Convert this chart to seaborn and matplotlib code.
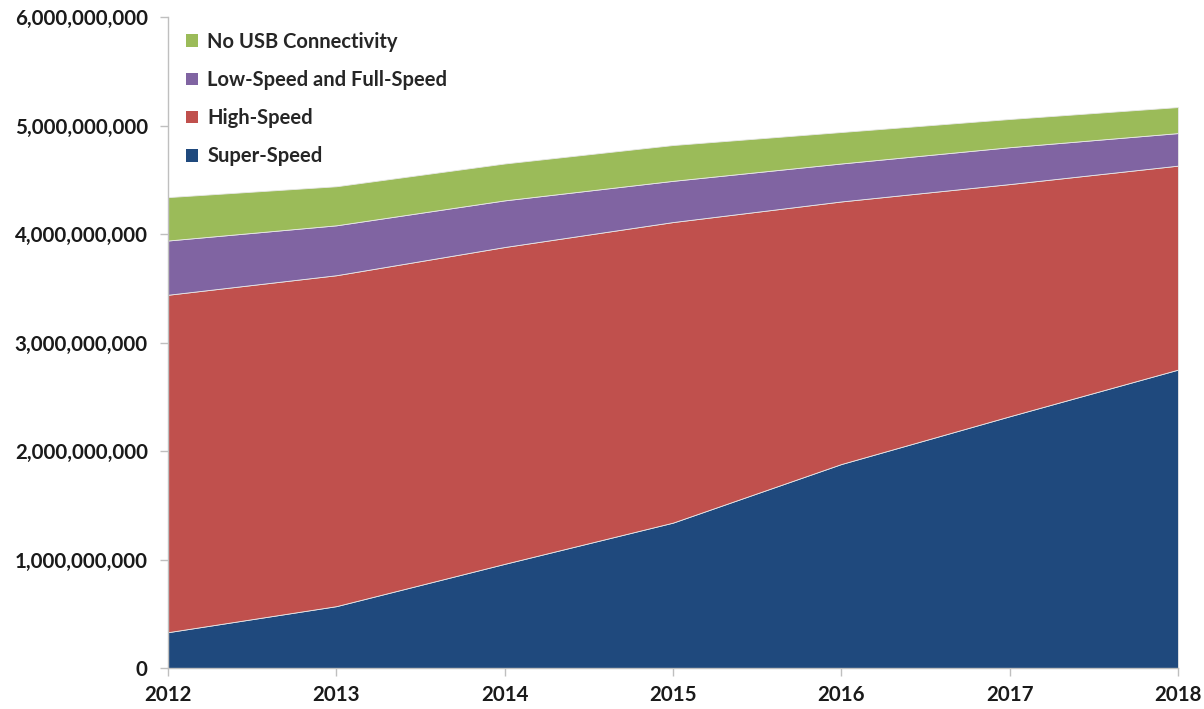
import matplotlib
matplotlib.use("Agg")
import matplotlib.pyplot as plt
import seaborn as sns
import numpy as np
from matplotlib.patches import Patch
from matplotlib.ticker import FuncFormatter

years = [2012, 2013, 2014, 2015, 2016, 2017, 2018]
super_speed = [0.33e9, 0.57e9, 0.96e9, 1.34e9, 1.88e9, 2.32e9, 2.75e9]
high_speed = [3.11e9, 3.05e9, 2.92e9, 2.77e9, 2.42e9, 2.14e9, 1.88e9]
low_full_speed = [0.50e9, 0.46e9, 0.43e9, 0.38e9, 0.35e9, 0.34e9, 0.30e9]
no_usb = [0.40e9, 0.36e9, 0.34e9, 0.33e9, 0.29e9, 0.26e9, 0.24e9]
series_names = ["Super-Speed", "High-Speed", "Low-Speed and Full-Speed", "No USB Connectivity"]
colors = ["#1F497D", "#C0504D", "#8064A2", "#9BBB59"]
y_ticks = [0, 1e9, 2e9, 3e9, 4e9, 5e9, 6e9]

sns.set_style("white")
plt.rcParams['font.family'] = ['Lato', 'DejaVu Sans']

fig = plt.figure(figsize=(12.04, 7.09), dpi=100)
ax = fig.add_axes([168/1204, 1 - 668/709, (1178-168)/1204, (668-17)/709])

ax.stackplot(years, super_speed, high_speed, low_full_speed, no_usb,
             colors=colors, edgecolor="#e8e8e8", linewidth=0.6)

ax.set_xlim(2012, 2018)
ax.set_ylim(0, 6e9)
ax.set_xticks(years)
ax.set_yticks(y_ticks)
ax.yaxis.set_major_formatter(FuncFormatter(lambda v, p: f"{int(round(v)):,}"))

for lab in ax.get_xticklabels() + ax.get_yticklabels():
    lab.set_fontweight("bold")
    lab.set_fontsize(14.8)
    lab.set_color("#1a1a1a")

sns.despine(ax=ax, top=True, right=True)
for s in ["left", "bottom"]:
    ax.spines[s].set_color("#bfbfbf")
    ax.spines[s].set_linewidth(1.0)
ax.tick_params(axis="both", which="major", direction="out", length=5.5, width=1,
               color="#bfbfbf", left=True, bottom=True)
ax.tick_params(axis="y", pad=9)
ax.tick_params(axis="x", pad=7)

handles = [Patch(facecolor=c, edgecolor="none") for c in colors[::-1]]
leg = ax.legend(handles, series_names[::-1], loc="upper left",
                bbox_to_anchor=(0.0, 1.005), frameon=False,
                prop={"weight": "bold", "size": 14.5},
                handlelength=0.6, handleheight=0.6, handletextpad=0.45,
                labelspacing=0.9)

fig.savefig("out.png", dpi=100, facecolor="white")
